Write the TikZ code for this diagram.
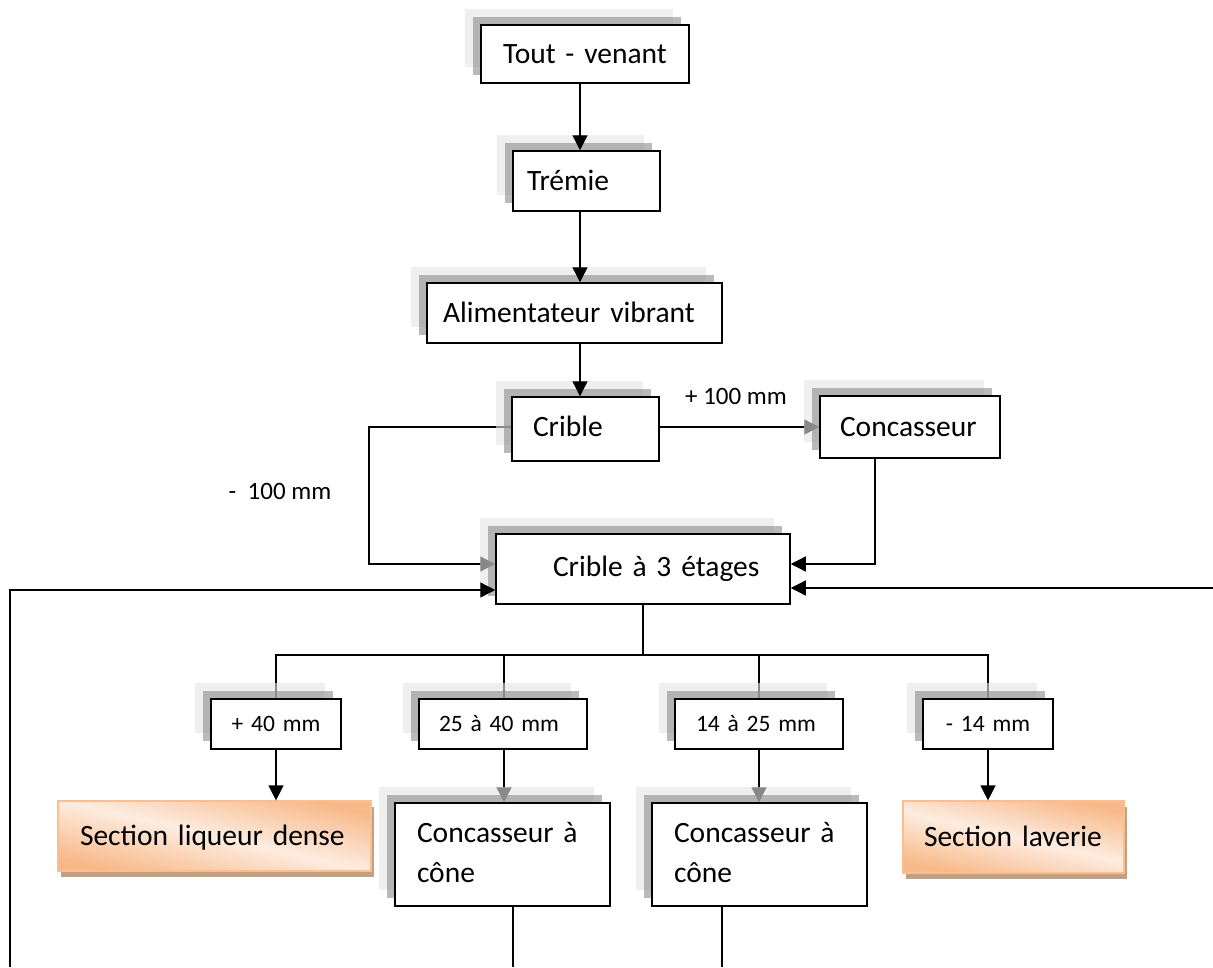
\documentclass[tikz,border=0pt]{standalone}
\usepackage{fontspec}
\setmainfont{Carlito}
\usetikzlibrary{arrows.meta,shadows}
\pgfdeclarelayer{background}
\pgfsetlayers{background,main}
\definecolor{shlight}{RGB}{228,228,228}
\definecolor{shdark}{RGB}{140,140,140}
\definecolor{orA}{RGB}{248,184,135}
\definecolor{orL}{RGB}{253,236,224}
\definecolor{orborder}{RGB}{249,190,145}
\definecolor{orshadow}{RGB}{196,160,128}
\begin{document}
\begin{tikzpicture}[x=1pt,y=-1pt,
  bigfont/.style={font=\fontsize{29.5}{40}\selectfont},
  smallfont/.style={font=\fontsize{23.5}{28}\selectfont},
  shadowed/.style={
    general shadow={shadow xshift=-16pt,shadow yshift=16pt,draw=none,fill=shlight,fill opacity=0.6},
    general shadow={shadow xshift=-8pt,shadow yshift=8pt,draw=none,fill=shdark,fill opacity=0.6}},
  pbox/.style={shadowed,draw,line width=1.5pt,fill=white,rectangle,inner ysep=0pt,
    align=left,bigfont,text height=19pt,text depth=0pt},
  sbox/.style={shadowed,draw,line width=1.5pt,fill=white,rectangle,inner ysep=0pt,
    align=left,smallfont,text height=15pt,text depth=0pt,minimum height=50pt},
  orbox/.style={draw=orborder,line width=1.2pt,top color=orA,bottom color=orA,middle color=orL,
    shading angle=-13,inner ysep=0pt,align=left,bigfont,text height=19pt,text depth=0pt,
    general shadow={shadow xshift=3pt,shadow yshift=-6pt,draw=none,fill=orshadow}},
  conn/.style={line width=1.3pt},
  arr/.style={conn,-{Triangle[length=15pt,width=15pt]}},
  lbl/.style={font=\fontsize{25}{30}\selectfont,inner sep=0pt}
]
\useasboundingbox (0,0) rectangle (1213,967);

% coordinates for connector routing
\coordinate (cx) at (580,0);
\coordinate (lk) at (369,564);
\coordinate (rk) at (875,564);
\coordinate (llb) at (10,967);
\coordinate (llt) at (10,590);
\coordinate (rl) at (1213,588);
\coordinate (bus) at (643,655);
\coordinate (e1) at (513,967);
\coordinate (e2) at (722,967);

% ---- boxes ----
\node[pbox,inner xsep=22pt,text width=164pt,minimum height=58pt] (tv) at (585,54) {\mbox{Tout - venant}};
\node[pbox,inner xsep=14pt,text width=119pt,minimum height=60pt] (tremie) at (586.5,181) {\mbox{Trémie}};
\node[pbox,inner xsep=16pt,text width=263pt,minimum height=60pt] (alim) at (574.5,313) {\mbox{Alimentateur vibrant}};
\node[pbox,inner xsep=21pt,text width=105pt,minimum height=64pt,text depth=4pt] (crible) at (585.5,429) {\mbox{Crible}};
\node[pbox,inner xsep=20pt,text width=140pt,minimum height=62pt] (conc) at (910,427) {\mbox{Concasseur}};
\node[pbox,inner xsep=57pt,text width=180pt,minimum height=70pt,text depth=5pt] (c3) at (643,569) {\mbox{Crible à 3 étages}};

\node[sbox,inner xsep=15pt,text width=100pt,align=center] (p40) at (276,724) {\mbox{+ 40 mm}};
\node[sbox,inner xsep=20pt,text width=128pt] (p2540) at (503,724) {\mbox{25 à 40 mm}};
\node[sbox,inner xsep=21pt,text width=126pt] (p1425) at (759,724) {\mbox{14 à 25 mm}};
\node[sbox,inner xsep=15pt,text width=100pt,align=center] (m14) at (988,724) {\mbox{- 14 mm}};

\node[orbox,inner xsep=22pt,text width=269pt,minimum height=70pt] (liq) at (214.5,836) {\mbox{Section liqueur dense}};
\node[orbox,inner xsep=21pt,text width=179pt,minimum height=72pt] (lav) at (1013.5,837) {\mbox{Section laverie}};

\node[pbox,inner xsep=22pt,text width=171pt,minimum height=103pt,text height=19pt,text depth=44pt] (cone1) at (502.5,854.5) {Concasseur à\\cône};
\node[pbox,inner xsep=22pt,text width=171pt,minimum height=103pt,text height=19pt,text depth=44pt] (cone2) at (759.5,854.5) {Concasseur à\\cône};

% ---- labels ----
\node[lbl] (lp) at (736,396) {+ 100 mm};
\node[lbl] (lm) at (280,491) {-\ \ 100 mm};

% ---- connectors passing under shadows ----
\begin{pgfonlayer}{background}
\draw[arr] (crible.east |- conc.west) -- (conc.west);
\draw[arr] (crible.west |- conc.west) -| (lk) -- (c3.west |- lk);
\draw[conn] (c3.south -| bus) -- (bus);
\draw[conn] (p40.north) -- (p40.north |- bus) -- (m14.north |- bus) -- (m14.north);
\draw[conn] (p2540.north -| 504,0) -- (bus -| 504,0);
\draw[conn] (p1425.north) -- (p1425.north |- bus);
\draw[arr] (p2540.south -| 504,0) -- (cone1.north -| 504,0);
\draw[arr] (p1425.south) -- (p1425.south |- cone2.north);
\end{pgfonlayer}

% ---- connectors on top ----
\draw[arr] (tv.south -| cx) -- (tremie.north -| cx);
\draw[arr] (tremie.south -| cx) -- (alim.north -| cx);
\draw[arr] (alim.south -| cx) -- (crible.north -| cx);
\draw[arr] (conc.south -| rk) -- (rk) -- (c3.east |- rk);
\draw[arr] (llb) -- (llt) -- (c3.west |- llt);
\draw[arr] (rl) -- (c3.east |- rl);
\draw[arr] (p40.south) -- (p40.south |- liq.north);
\draw[arr] (m14.south) -- (m14.south |- lav.north);
\draw[conn] (cone1.south -| e1) -- (e1);
\draw[conn] (cone2.south -| e2) -- (e2);
\end{tikzpicture}
\end{document}
